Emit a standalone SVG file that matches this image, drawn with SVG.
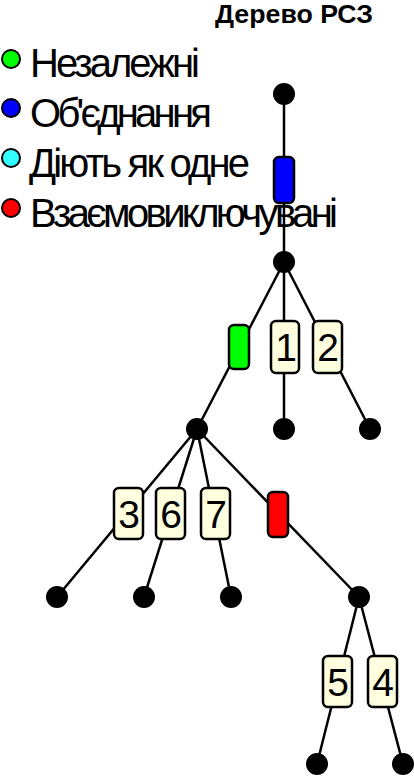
<svg xmlns="http://www.w3.org/2000/svg" width="414" height="776" viewBox="0 0 414 776">
<style>
.t{font-family:"Liberation Sans",Arial,sans-serif;fill:#000}
.lg{font-size:40px}
.title{font-size:25px;font-weight:bold}
.dot{fill:#000}
.lc{stroke:#000;stroke-width:2}
.edge{stroke:#000;stroke-width:2.5;fill:none}
.box{fill:#ffffe0;stroke:#000;stroke-width:2.5}
.rel{stroke:#000;stroke-width:2.5}
.num{font-size:39px;text-anchor:middle}
</style>
<rect width="414" height="776" fill="#fff"/>
<text class="t title" x="215" y="23" textLength="158" lengthAdjust="spacingAndGlyphs">Дерево РСЗ</text>
<g id="legend">
<circle class="lc" cx="11" cy="59" r="9" fill="#00ff00"/>
<text class="t lg" x="30" y="77" textLength="170" lengthAdjust="spacing">Незалежні</text>
<circle class="lc" cx="11" cy="108" r="9" fill="#0000ff"/>
<text class="t lg" x="30" y="127" textLength="182" lengthAdjust="spacing">Об'єднання</text>
<circle class="lc" cx="11" cy="158" r="9" fill="#33ffff"/>
<text class="t lg" x="29" y="177" textLength="221" lengthAdjust="spacing">Діють як одне</text>
<circle class="lc" cx="11" cy="208" r="9" fill="#ff0000"/>
<text class="t lg" x="30" y="227" textLength="308" lengthAdjust="spacing">Взаємовиключувані</text>
</g>
<g id="connectors">
<line class="edge" x1="284" y1="94" x2="284" y2="262"/>
<line class="edge" x1="284" y1="262" x2="197" y2="429"/>
<line class="edge" x1="284" y1="262" x2="284" y2="429"/>
<line class="edge" x1="284" y1="262" x2="370" y2="429"/>
<line class="edge" x1="197" y1="429" x2="57" y2="597"/>
<line class="edge" x1="197" y1="429" x2="144" y2="597"/>
<line class="edge" x1="197" y1="429" x2="231" y2="597"/>
<line class="edge" x1="197" y1="429" x2="359" y2="597"/>
<line class="edge" x1="359" y1="597" x2="317" y2="764"/>
<line class="edge" x1="359" y1="597" x2="403" y2="764"/>
</g>
<g id="n-root"><circle class="dot" cx="284" cy="94" r="11"/></g>
<g id="n-b"><circle class="dot" cx="284" cy="262" r="11"/></g>
<g id="n-c"><circle class="dot" cx="197" cy="429" r="11"/></g>
<g id="n-d"><circle class="dot" cx="284" cy="429" r="11"/></g>
<g id="n-e"><circle class="dot" cx="370" cy="429" r="11"/></g>
<g id="n-f"><circle class="dot" cx="57" cy="597" r="11"/></g>
<g id="n-g"><circle class="dot" cx="144" cy="597" r="11"/></g>
<g id="n-h"><circle class="dot" cx="231" cy="597" r="11"/></g>
<g id="n-i"><circle class="dot" cx="359" cy="597" r="11"/></g>
<g id="n-j"><circle class="dot" cx="317" cy="764" r="11"/></g>
<g id="n-k"><circle class="dot" cx="403" cy="764" r="11"/></g>
<g id="r-union"><rect class="rel" x="274" y="157" width="20" height="46" rx="5" fill="#0000ff"/></g>
<g id="r-indep"><rect class="rel" x="229" y="325" width="20" height="44" rx="5" fill="#00ff00"/></g>
<g id="r-excl"><rect class="rel" x="268" y="492" width="20" height="45" rx="5" fill="#ff0000"/></g>
<g id="b1"><rect class="box" x="271" y="321" width="28" height="52" rx="5"/><text class="t num" x="286" y="361">1</text></g>
<g id="b2"><rect class="box" x="313" y="321" width="29" height="52" rx="5"/><text class="t num" x="328" y="361">2</text></g>
<g id="b3"><rect class="box" x="114" y="488" width="29" height="51" rx="5"/><text class="t num" x="129" y="528">3</text></g>
<g id="b6"><rect class="box" x="156" y="488" width="29" height="51" rx="5"/><text class="t num" x="171" y="528">6</text></g>
<g id="b7"><rect class="box" x="201" y="488" width="29" height="51" rx="5"/><text class="t num" x="216" y="528">7</text></g>
<g id="b5"><rect class="box" x="323" y="656" width="29" height="51" rx="5"/><text class="t num" x="338" y="696">5</text></g>
<g id="b4"><rect class="box" x="368" y="656" width="29" height="51" rx="5"/><text class="t num" x="383" y="696">4</text></g>
</svg>
